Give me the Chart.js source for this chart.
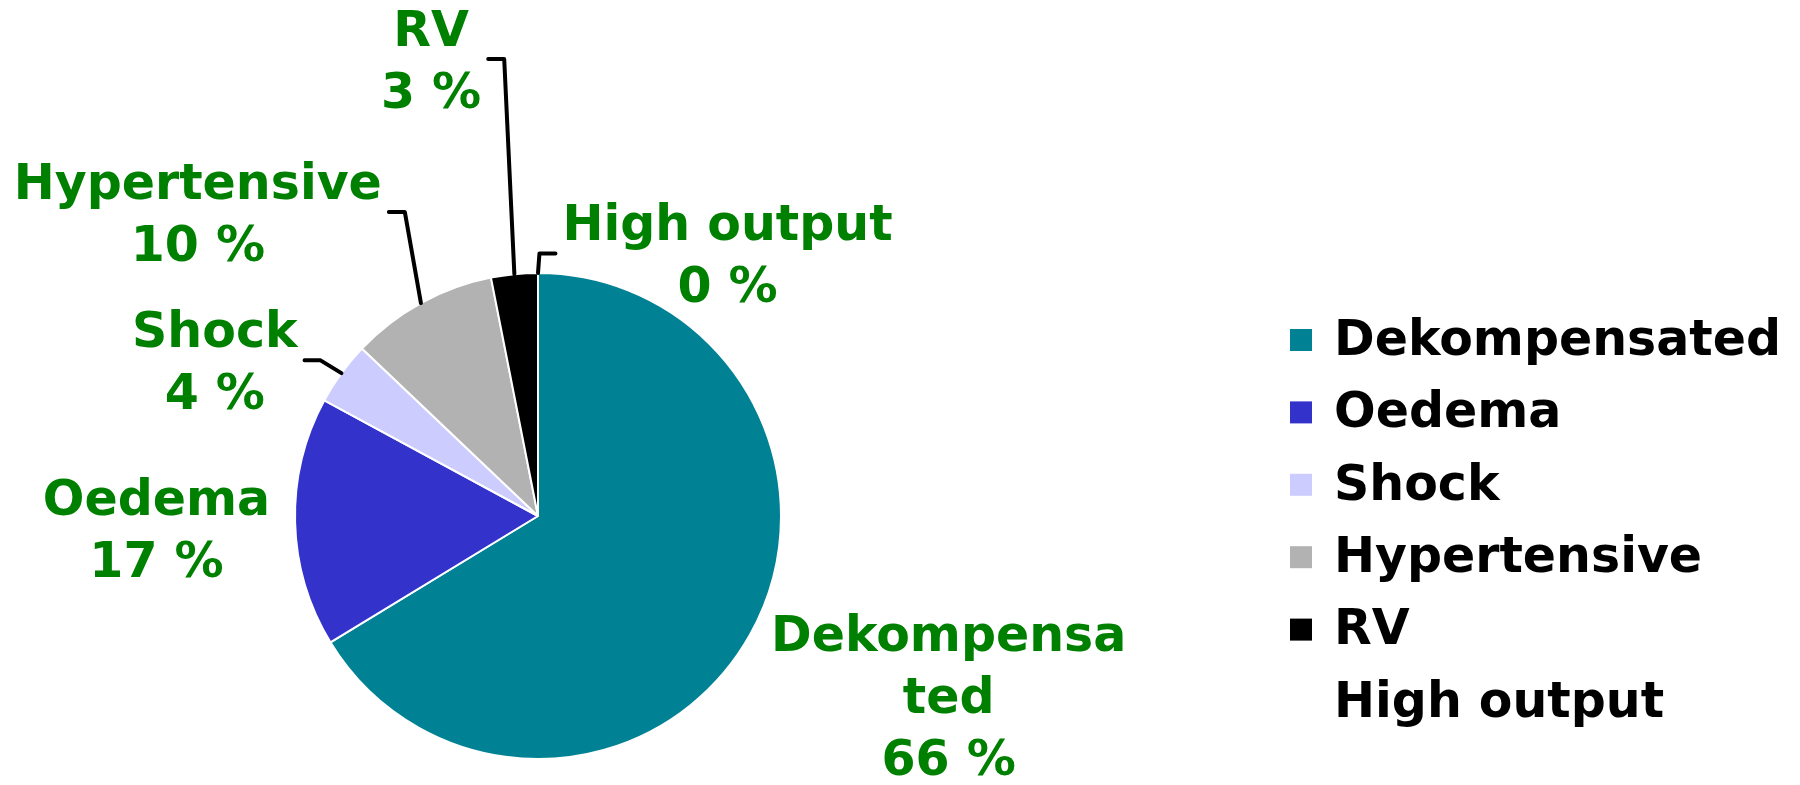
<!DOCTYPE html>
<html>
<head>
<meta charset="utf-8">
<script src="https://cdn.jsdelivr.net/npm/chart.js@4"></script>
<style>
    html, body { margin: 0; padding: 0; background: #fff; }
    canvas { display: block; }
</style>
</head>
<body>
<canvas id="graficoTorta" width="1800" height="785"></canvas>
<script>
// Datos del gráfico (porcentajes)
const categorias = ['Dekompensated', 'Oedema', 'Shock', 'Hypertensive', 'RV', 'High output'];
const valores = [66.3, 16.6, 4.2, 9.8, 3.1, 0];

// Texto de las etiquetas sobre la torta (Excel corta "Dekompensated")
const textoEtiquetas = [['Dekompensa', 'ted'], ['Oedema'], ['Shock'], ['Hypertensive'], ['RV'], ['High output']];

// Estilos
const colores = ['#008294', '#3333CC', '#CCCCFF', '#B2B2B2', '#000000', '#FFFFFF'];
const fuente = 'bold 49px "DejaVu Sans", Verdana, sans-serif';
// Posición de cada etiqueta respecto al centro, en múltiplos del radio
const posEtiquetas = [[1.69, 0.76], [-1.57, 0.07], [-1.33, -0.62], [-1.40, -1.23], [-0.44, -1.86], [0.78, -1.06]];
const conLinea = [false, false, true, true, true, true];

// Plugin: etiquetas verdes con línea guía
const pluginEtiquetas = {
    id: 'etiquetas',
    afterDatasetsDraw(chart) {
        const ctx = chart.ctx;
        const meta = chart.getDatasetMeta(0);
        ctx.save();
        ctx.font = fuente;
        ctx.textAlign = 'center';
        ctx.textBaseline = 'middle';
        meta.data.forEach((arco, i) => {
            const p = arco.getProps(['x', 'y', 'outerRadius', 'startAngle', 'endAngle'], true);
            const lx = p.x + posEtiquetas[i][0] * p.outerRadius;
            const ly = p.y + posEtiquetas[i][1] * p.outerRadius;
            const lineas = [...textoEtiquetas[i], Math.round(valores[i]) + ' %'];
            const alto = 62;
            const y0 = ly - (lineas.length - 1) * alto / 2;

            ctx.fillStyle = '#008000';
            lineas.forEach((t, k) => ctx.fillText(t, lx, y0 + k * alto));

            if (conLinea[i]) {
                const ancho = Math.max(...lineas.map(t => ctx.measureText(t).width));
                const medio = (p.startAngle + p.endAngle) / 2;
                const px = p.x + Math.cos(medio) * p.outerRadius;
                const py = p.y + Math.sin(medio) * p.outerRadius;
                const lado = px > lx ? 1 : -1;
                const sx = lx + lado * (ancho / 2 + 7);
                const sy = ly - 5;
                ctx.strokeStyle = '#000';
                ctx.lineWidth = 4;
                ctx.lineCap = 'round';
                ctx.lineJoin = 'round';
                ctx.beginPath();
                ctx.moveTo(sx, sy);
                ctx.lineTo(sx + lado * 16, sy);
                ctx.lineTo(px, py);
                ctx.stroke();
            }
        });
        ctx.restore();
    }
};

// Plugin: leyenda a la derecha
const pluginLeyenda = {
    id: 'leyenda',
    afterDraw(chart) {
        const ctx = chart.ctx;
        const x = 1290;
        const yIni = 340;
        const paso = 72.4;
        ctx.save();
        ctx.font = fuente;
        ctx.textAlign = 'left';
        ctx.textBaseline = 'middle';
        chart.data.labels.forEach((nombre, i) => {
            const y = yIni + i * paso;
            ctx.fillStyle = chart.data.datasets[0].backgroundColor[i];
            ctx.fillRect(x, y - 11, 22, 22);
            ctx.fillStyle = '#000';
            ctx.fillText(nombre, x + 44, y + 2);
        });
        ctx.restore();
    }
};

const ctx = document.getElementById('graficoTorta').getContext('2d');
new Chart(ctx, {
    type: 'pie',
    data: {
        labels: categorias,
        datasets: [{
            data: valores,
            backgroundColor: colores,
            borderColor: '#FFFFFF',
            borderWidth: 2
        }]
    },
    options: {
        responsive: false,
        animation: false,
        layout: { padding: { left: 294, top: 272, right: 1018, bottom: 25 } },
        plugins: {
            legend: { display: false },
            tooltip: { enabled: false }
        }
    },
    plugins: [pluginEtiquetas, pluginLeyenda]
});
</script>
</body>
</html>
